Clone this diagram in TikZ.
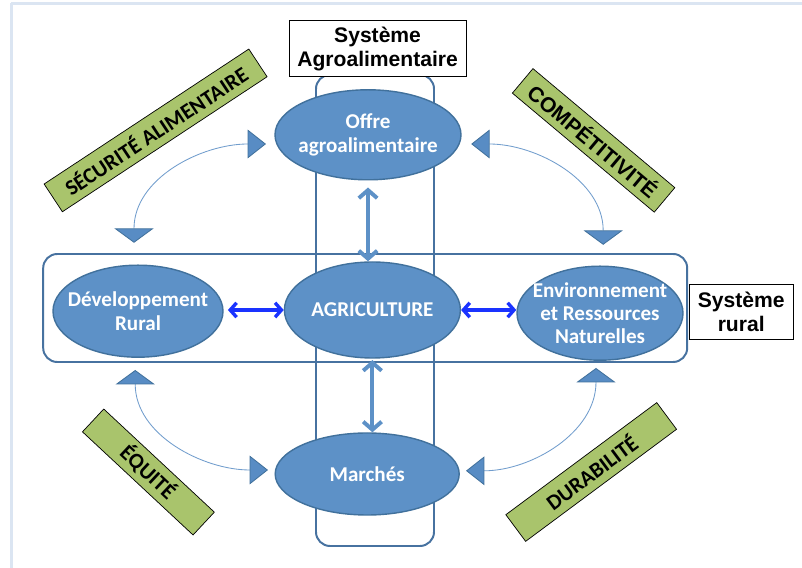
\documentclass[tikz,border=0pt]{standalone}
\usepackage{fontspec}
\setmainfont{Carlito}
\newfontfamily\arialfont{Liberation Sans}
\usetikzlibrary{arrows.meta, shapes.geometric}

\definecolor{bleuell}{RGB}{93,145,199}
\definecolor{bordell}{RGB}{65,113,156}
\definecolor{bordcadre}{RGB}{71,114,160}
\definecolor{vertlab}{RGB}{169,196,108}
\definecolor{bleuvif}{RGB}{26,51,255}
\definecolor{bleufond}{RGB}{219,229,242}
\definecolor{bleutri}{RGB}{88,140,196}

\begin{document}
\begin{tikzpicture}[
	pole/.style = {ellipse, draw = bordell, line width = 1pt, fill = bleuell, text = white, align = center, inner xsep = -5mm, inner ysep = -2.5mm, font = \bfseries\fontsize{15}{16.5}\selectfont},
	valeur/.style = {rectangle, draw = black, line width = 0.5pt, fill = vertlab, inner sep = 0pt, font = \bfseries\fontsize{15.5}{16.5}\selectfont},
	systeme/.style = {rectangle, draw = black, line width = 0.6pt, fill = white, align = center, inner sep = 0pt, font = \arialfont\bfseries\fontsize{15}{17}\selectfont},
	enveloppe/.style = {draw = bordcadre, line width = 1.4pt, rounded corners = 10pt},
	lien/.style = {bleuell, line width = 2.8pt, arrows = {Straight Barb[length = 2mm, width = 4.6mm]-Straight Barb[length = 2mm, width = 4.6mm]}},
	echange/.style = {bleuvif, line width = 2.4pt, arrows = {Straight Barb[length = 1.6mm, width = 3.6mm]-Straight Barb[length = 1.6mm, width = 3.6mm]}},
	boucle/.style = {bleutri!85, line width = 0.6pt, arrows = {Triangle[length = 3.6mm, width = 9.8mm, fill = bleutri, color = bordell]-Triangle[length = 4.6mm, width = 7.2mm, fill = bleutri, color = bordell]}}
	]

	\useasboundingbox (0, 0) rectangle (20.05, 14.2);
	\fill[white] (0, 0) rectangle (20.05, 14.2);

	% cadre de la page
	\draw[bleufond, line width = 2pt] (0.28, 14.12) -- (20.05, 14.12);
	\draw[bleufond, line width = 2pt] (0.28, 14.12) -- (0.28,  0.00);

	% systeme agroalimentaire (vertical) et systeme rural (horizontal)
	\draw[enveloppe] ( 7.90, 0.55) rectangle (10.85, 12.33);
	\draw[enveloppe] ( 1.08, 5.15) rectangle (17.18,  7.85);

	\node[systeme, minimum width = 4.43cm, minimum height = 1.40cm] (sysagro)  at ( 9.44, 12.98) {Système\\Agroalimentaire};
	\node[systeme, minimum width = 2.60cm, minimum height = 1.38cm] (sysrural) at (18.53,  6.41) {Système\\rural};

	% les cinq poles
	\node[pole, minimum width = 4.65cm, minimum height = 2.25cm] (offre)   at ( 9.20, 10.83) {Offre\\agroalimentaire};
	\node[pole, minimum width = 4.40cm, minimum height = 2.40cm] (agri)    at ( 9.31,  6.45) {AGRICULTURE};
	\node[pole, minimum width = 4.60cm, minimum height = 2.05cm] (marches) at ( 9.18,  2.35) {Marchés};
	\node[pole, minimum width = 4.25cm, minimum height = 2.30cm] (dev)     at ( 3.45,  6.42) {Développement\\Rural};
	\node[pole, minimum width = 4.15cm, minimum height = 2.35cm] (env)     at (15.00,  6.37) {Environnement\\et Ressources\\Naturelles};

	\draw[lien] ([yshift = -5pt]offre.south) -- (offre.south |- agri.north);
	\draw[lien] ([yshift = -1pt]agri.south) -- (agri.south |- marches.north);
	\draw[echange, shorten <= 3pt] (dev.east |- agri.west) -- (agri.west);
	\draw[echange] (agri.east) -- (agri.east -| env.west);

	% les quatre objectifs
	\node[valeur, rotate =  33.4, minimum width = 6.13cm, minimum height = 0.83cm] (secu)   at ( 3.89, 10.94) {SÉCURITÉ ALIMENTAIRE};
	\node[valeur, rotate = -40.0, minimum width = 4.63cm, minimum height = 0.80cm, font = \arialfont\bfseries\fontsize{15}{16.5}\selectfont] (compet) at (14.84, 10.69) {COMPÉTITIVITÉ};
	\node[valeur, rotate = -43.0, minimum width = 3.78cm, minimum height = 0.78cm] (equite) at ( 3.71,  2.40) {ÉQUITÉ};
	\node[valeur, rotate =  36.6, minimum width = 4.70cm, minimum height = 0.83cm] (durab)  at (14.78,  2.40) {DURABILITÉ};

	\coordinate (sec1)  at ( 3.35,  8.13);
	\coordinate (sec2)  at ( 6.65, 10.60);
	\coordinate (comp1) at (15.08,  8.08);
	\coordinate (comp2) at (11.78, 10.60);
	\coordinate (equ1)  at ( 3.38,  4.95);
	\coordinate (equ2)  at ( 6.70,  2.45);
	\coordinate (dur1)  at (14.90,  5.00);
	\coordinate (dur2)  at (11.65,  2.43);

	\draw[boucle] (sec1)  to[out =  90, in = 180] (sec2);
	\draw[boucle] (comp1) to[out =  90, in =   0] (comp2);
	\draw[boucle] (equ1)  to[out = -90, in = 180] (equ2);
	\draw[boucle] (dur1)  to[out = -90, in =   0] (dur2);

\end{tikzpicture}
\end{document}
